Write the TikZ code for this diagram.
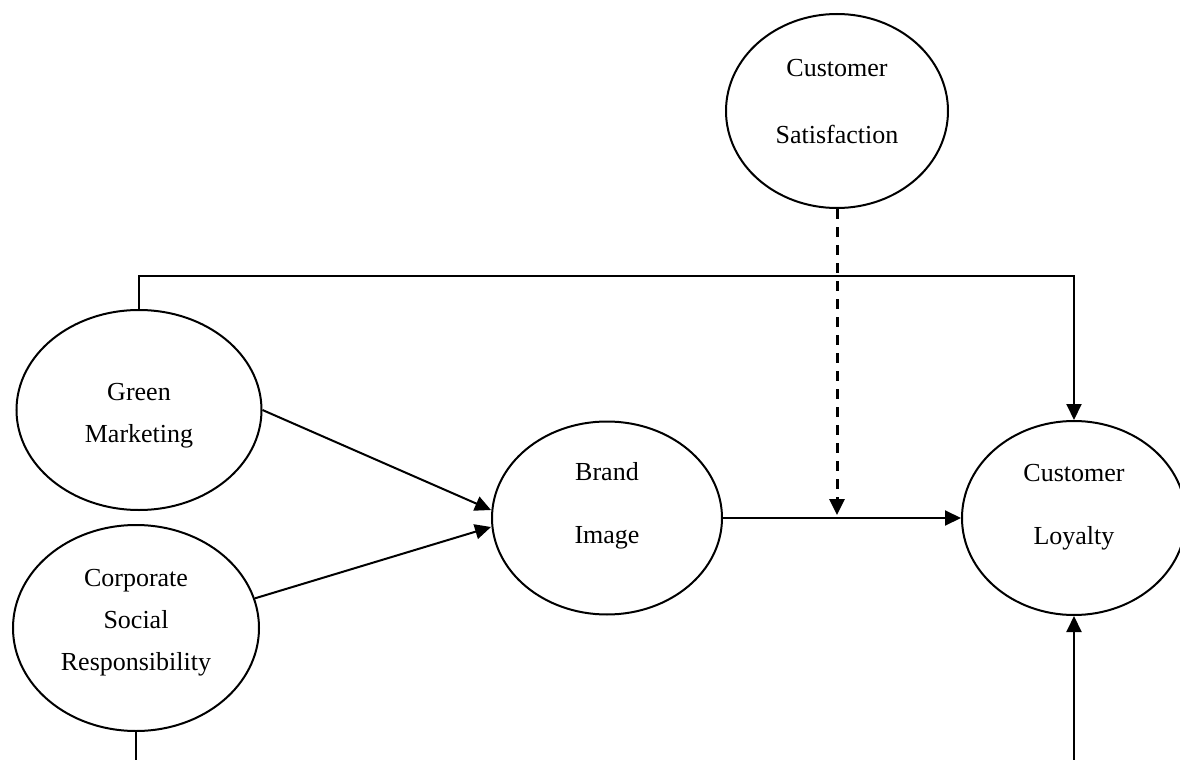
\documentclass[tikz,border=0pt]{standalone}
\usepackage{fontspec}
\setmainfont{Liberation Serif}
\usetikzlibrary{arrows.meta,positioning,shapes.geometric}

\tikzset{
  construct/.style={draw, ellipse, line width=1pt, inner sep=0pt},
  txt/.style={align=center},
  link/.style={->, line width=1pt},
  moderator/.style={->, line width=1.5pt, dash pattern=on 5pt off 4pt, shorten >=1.5pt}
}

\begin{document}
\begin{tikzpicture}[x=0.5pt, y=-0.5pt,
  >={Triangle[length=8pt,width=7.5pt]},
  font=\fontsize{13}{21}\selectfont]

  \useasboundingbox (0,0) rectangle (1180,760);

  % constructs
  \node[construct, minimum width=111pt, minimum height=97pt,
    label={[txt, yshift=4.75pt]center:{Customer\\[12.5pt]Satisfaction}}]
    (cs) at (837,111) {};
  \node[construct, minimum width=122.5pt, minimum height=100pt,
    label={[txt, yshift=-3pt]center:{Green\\Marketing}}]
    (gm) at (139,410) {};
  \node[construct, minimum width=123pt, minimum height=103pt,
    label={[txt, yshift=2.5pt]center:{Corporate\\Social\\Responsibility}}]
    (csr) at (136,628) {};
  \node[construct, minimum width=115pt, minimum height=96.5pt,
    label={[txt, yshift=6pt]center:{Brand\\[10.5pt]Image}}]
    (bi) at (607,518) {};
  \node[construct, minimum width=112pt, minimum height=97pt,
    label={[txt, yshift=5.5pt]center:{Customer\\[10.5pt]Loyalty}}]
    (cl) at (1074,518) {};

  \coordinate (base) at (0,760);

  % paths
  \draw[link] (gm.north) -- ++(0,-33) -| (cl.north);
  \draw[link] (gm.east) -- ([yshift=4pt]bi.west);
  \draw[link] (csr.14) -- ([yshift=-4.5pt]bi.west);
  \draw[link] (bi.east) -- (cl.west);
  \draw[line width=1pt] (csr.south) -- (csr.south |- base);
  \draw[link] (cl.south |- base) -- (cl.south);

  % moderation
  \draw[moderator] (cs.south) -- (cs.south |- bi.east);

\end{tikzpicture}
\end{document}
